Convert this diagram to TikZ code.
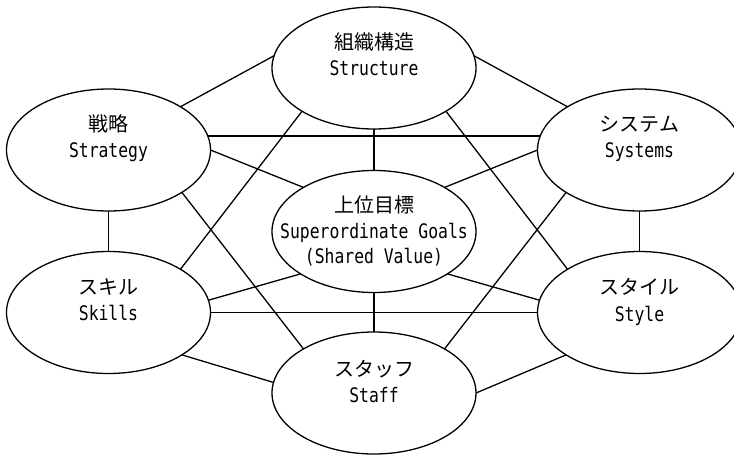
\documentclass[tikz,border=0pt]{standalone}
\usepackage{fontspec}
\setmainfont[FakeStretch=0.82]{DejaVu Sans Mono}
\newfontfamily\jpfont{Noto Sans CJK JP}
\usetikzlibrary{shapes.geometric}
\begin{document}
\begin{tikzpicture}[x=1pt,y=-1pt,
  oval/.style={ellipse, draw, line width=1.3pt, minimum width=204pt, minimum height=122pt, inner sep=0pt, outer sep=0pt},
  jptext/.style={anchor=base, inner sep=0pt, font=\fontsize{20}{25}\selectfont\jpfont},
  entext/.style={anchor=base, inner sep=0pt, font=\fontsize{20}{25}\selectfont},
  link/.style={line width=1.3pt}]
\useasboundingbox (0,0) rectangle (734,455);
\clip (0,0) rectangle (734,455);
% ellipses
\node[oval] (ST) at (374,68) {};
\node[oval] (SG) at (108.5,150) {};
\node[oval] (SY) at (639.5,150) {};
\node[oval] (C)  at (374,231.5) {};
\node[oval] (SK) at (108.5,312.5) {};
\node[oval] (SL) at (639.5,312.5) {};
\node[oval] (SF) at (374,393) {};
% texts
\node[jptext] (tST1) at (374,49) {組織構造};
\node[entext] (tST2) at (374,75) {Structure};
\node[jptext] (tSG1) at (108.5,131) {戦略};
\node[entext] (tSG2) at (108.5,157) {Strategy};
\node[jptext] (tSY1) at (639.5,131) {システム};
\node[entext] (tSY2) at (639.5,157) {Systems};
\node[jptext] (tC1) at (374,212) {上位目標};
\node[entext] (tC2) at (374,238) {Superordinate Goals};
\node[entext] (tC3) at (374,263) {(Shared Value)};
\node[jptext] (tSK1) at (108.5,294) {スキル};
\node[entext] (tSK2) at (108.5,320) {Skills};
\node[jptext] (tSL1) at (639.5,294) {スタイル};
\node[entext] (tSL2) at (639.5,321) {Style};
\node[jptext] (tSF1) at (374,376) {スタッフ};
\node[entext] (tSF2) at (374,402) {Staff};
% connectors
\draw[link] (ST.173) -- (SG.31);
\draw[link] (ST.7) -- (SY.149);
\draw[link] (ST.south) -- (C.north);
\draw[link] (ST.211) -- (SK.31);
\draw[link] (ST.329) -- (SL.149);
\draw[link] (SG.8) -- (SY.172);
\draw[link] (SG.0) -- (C.148);
\draw[link] (SY.180) -- (C.32);
\draw[link] (SG.south) -- (SK.north);
\draw[link] (SY.south) -- (SL.north);
\draw[link] (SG.330) -- (SF.148);
\draw[link] (SY.210) -- (SF.32);
\draw[link] (SK.7) -- (C.210);
\draw[link] (SL.173) -- (C.330);
\draw[link] (SK.east) -- (SL.west);
\draw[link] (C.south) -- (SF.north);
\draw[link] (SK.330) -- (SF.174);
\draw[link] (SL.210) -- (SF.east);
\end{tikzpicture}
\end{document}
